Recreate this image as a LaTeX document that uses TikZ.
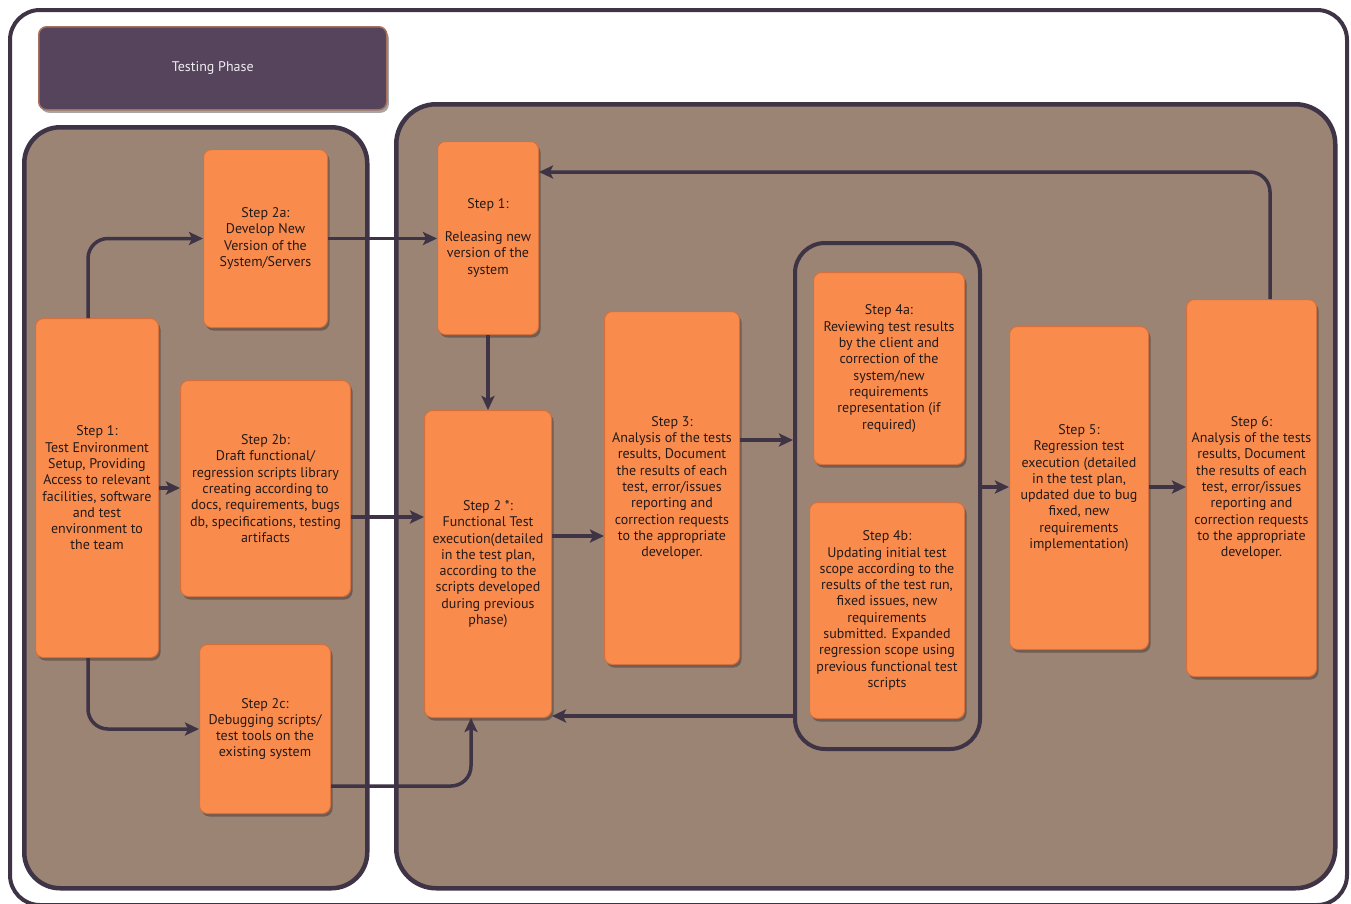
\documentclass[tikz,border=0pt]{standalone}
\usepackage{fontspec}
\setmainfont{PT Sans}
\usetikzlibrary{arrows.meta,calc,shadows}
\definecolor{ink}{HTML}{3E3446}
\definecolor{taupe}{HTML}{9B8474}
\definecolor{orangefill}{HTML}{F98C4D}
\definecolor{orangeedge}{HTML}{D4703E}
\definecolor{shade}{HTML}{6F5C52}
\definecolor{titlefill}{HTML}{55445B}
\definecolor{titleedge}{HTML}{A5705E}
\definecolor{txt}{HTML}{231A1A}
\tikzset{
  stepbox/.style={draw=orangeedge, line width=1pt, fill=orangefill, rounded corners=8pt,
    anchor=north west, inner sep=0pt, align=center, text=txt,
    font=\fontsize{14}{16.3}\selectfont,
    drop shadow={shadow xshift=2pt, shadow yshift=-3pt, fill=shade, opacity=1}},
  titlebox/.style={draw=titleedge, line width=1.5pt, fill=titlefill, rounded corners=8pt,
    anchor=north west, inner sep=0pt, text=white!90!titlefill,
    font=\fontsize{14}{16}\selectfont,
    drop shadow={shadow xshift=2pt, shadow yshift=-3pt, fill=gray!70, opacity=1}},
  panel/.style={draw=ink, line width=4.5pt, fill=taupe, rounded corners=36pt,
    anchor=north west, inner sep=0pt},
  group/.style={draw=ink, line width=4pt, rounded corners=30pt,
    anchor=north west, inner sep=0pt},
  flow/.style={draw=ink, line width=3.5pt, rounded corners=20pt,
    -{Stealth[length=14pt,width=13pt,inset=3pt]}},
}
\begin{document}
\begin{tikzpicture}[x=1pt,y=-1pt]
\useasboundingbox (0,0) rectangle (1351,903);
\begin{scope}
\clip (0,0) rectangle (1351,903);
% outer frame
\draw[ink, line width=4pt, fill=white, rounded corners=30pt] (10,10) rectangle (1347,905);
\end{scope}

% title
\node[titlebox, minimum width=348pt, minimum height=83pt] (title) at (38,26) {Testing Phase};

% containers
\node[panel, minimum width=343pt, minimum height=761pt] (pl) at (22,125) {};
\node[panel, minimum width=939pt, minimum height=784pt, rounded corners=40pt] (pr) at (394,102) {};
\node[group, minimum width=185pt, minimum height=506pt] (c4) at (793,241) {};

% preparation steps
\node[stepbox, minimum width=123pt, minimum height=339pt] (l1) at (35,318)
  {Step 1:\\Test Environment\\Setup, Providing\\Access to relevant\\facilities, software\\and test\\environment to\\the team};
\node[stepbox, minimum width=124pt, minimum height=178pt] (s2a) at (203,149)
  {Step 2a:\\Develop New\\Version of the\\System/Servers};
\node[stepbox, minimum width=170pt, minimum height=216pt] (s2b) at (180,380)
  {Step 2b:\\Draft functional/\\regression scripts library\\creating according to\\docs, requirements, bugs\\db, specifications, testing\\artifacts};
\node[stepbox, minimum width=131pt, minimum height=169pt] (s2c) at (199,644)
  {Step 2c:\\Debugging scripts/\\test tools on the\\existing system};

% execution steps
\node[stepbox, minimum width=101pt, minimum height=193pt] (r1) at (437,141)
  {Step 1:\\[16.3pt]Releasing new\\version of the\\system};
\node[stepbox, minimum width=127pt, minimum height=307pt] (s2) at (424,410)
  {Step 2 *:\\Functional Test\\execution(detailed\\in the test plan,\\according to the\\scripts developed\\during previous\\phase)};
\node[stepbox, minimum width=135pt, minimum height=353pt] (s3) at (604,311)
  {Step 3:\\Analysis of the tests\\results, Document\\the results of each\\test, error/issues\\reporting and\\correction requests\\to the appropriate\\developer.};
\node[stepbox, minimum width=151pt, minimum height=192pt] (s4a) at (813,272)
  {Step 4a:\\Reviewing test results\\by the client and\\correction of the\\system/new\\requirements\\representation (if\\required)};
\node[stepbox, minimum width=155pt, minimum height=216pt] (s4b) at (809,502)
  {Step 4b:\\Updating initial test\\scope according to the\\results of the test run,\\fixed issues, new\\requirements\\submitted. Expanded\\regression scope using\\previous functional test\\scripts};
\node[stepbox, minimum width=139pt, minimum height=323pt] (s5) at (1009,326)
  {Step 5:\\Regression test\\execution (detailed\\in the test plan,\\updated due to bug\\fixed, new\\requirements\\implementation)};
\node[stepbox, minimum width=130pt, minimum height=377pt] (s6) at (1186,299)
  {Step 6:\\Analysis of the tests\\results, Document\\the results of each\\test, error/issues\\reporting and\\correction requests\\to the appropriate\\developer.};

% connectors
\draw[flow] (l1.north -| 88,0) |- (s2a.west);
\draw[flow] (l1.east) -- (l1.east -| s2b.west);
\draw[flow] (l1.south -| 88,0) |- (s2c.west);
\draw[flow] (s2a.east) -- (s2a.east -| r1.west);
\draw[flow] (s2b.east |- 0,517) -- (s2.west |- 0,517);
\draw[flow] (s2c.east |- 0,786) -| (s2.south -| 471,0);
\draw[flow] (r1.south) -- (s2.north);
\draw[flow] (s2.east |- 0,536) -- (s3.west |- 0,536);
\draw[flow] (s3.east |- 0,440) -- (c4.west |- 0,440);
\draw[flow] (c4.west |- 0,716) -- (s2.east |- 0,716);
\draw[flow] (c4.east |- 0,487) -- (s5.west |- 0,487);
\draw[flow] (s5.east |- 0,487) -- (s6.west |- 0,487);
\draw[flow] (s6.north -| 1270,0) |- (r1.east |- 0,172);
\end{tikzpicture}
\end{document}
